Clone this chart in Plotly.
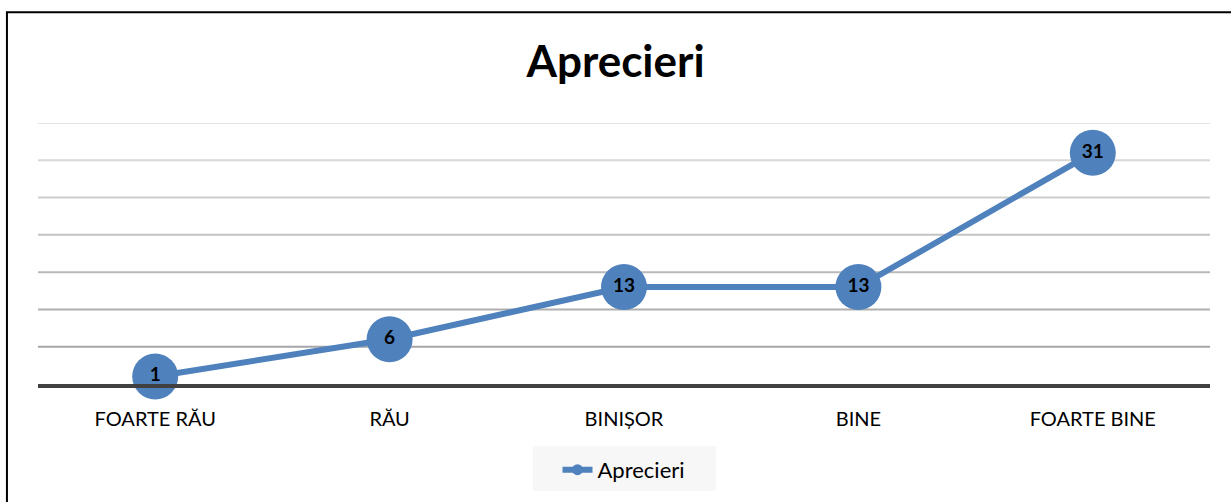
import plotly.graph_objects as go

categories = ["FOARTE RĂU", "RĂU", "BINIȘOR", "BINE", "FOARTE BINE"]
values = [1, 6, 13, 13, 31]
series_name = "Aprecieri"
grid_values = [5, 10, 15, 20, 25, 30, 35]
grid_colors = ["#a6a6a6", "#afafaf", "#b9b9b9", "#c3c3c3", "#cdcdcd", "#d7d7d7", "#e2e2e2"]

blue = "#4f81bd"
font_family = "Lato, 'Noto Sans', sans-serif"

fig = go.Figure()

# main line with big round markers and labels inside them
fig.add_trace(go.Scatter(
    x=categories,
    y=values,
    mode="lines+markers+text",
    line=dict(color=blue, width=6),
    marker=dict(color=blue, size=46),
    text=[str(v) for v in values],
    textposition="middle center",
    textfont=dict(family=font_family, size=19, color="black", weight="bold"),
    showlegend=False,
    cliponaxis=False,
    hoverinfo="x+y",
))

# legend-only entry (small marker like the original legend)
fig.add_trace(go.Scatter(
    x=[None], y=[None],
    mode="lines+markers",
    name=series_name,
    line=dict(color=blue, width=6),
    marker=dict(color=blue, size=11),
))

# graded gridlines
for gv, gc in zip(grid_values, grid_colors):
    fig.add_shape(type="line", xref="paper", yref="y", x0=0, x1=1, y0=gv, y1=gv,
                  line=dict(color=gc, width=2), layer="below")

# outer page border (partially visible frame)
fig.add_shape(type="rect", xref="paper", yref="paper",
              x0=-0.0265, x1=1.05, y0=-0.6, y1=1.4248,
              line=dict(color="black", width=2), layer="below")

# light grey legend box
fig.add_shape(type="rect", xref="paper", yref="paper",
              x0=0.4224, x1=0.5785, y0=-0.4095, y1=-0.238,
              line=dict(width=0), fillcolor="#f7f7f7", layer="below")

fig.update_layout(
    width=1231, height=502,
    margin=dict(l=38, r=21, t=123, b=117),
    paper_bgcolor="white",
    plot_bgcolor="white",
    font=dict(family=font_family, size=20, color="black"),
    title=dict(text="<b>Aprecieri</b>", x=0.5, xanchor="center", y=0.877, yanchor="middle",
               font=dict(family=font_family, size=44, color="black")),
    xaxis=dict(
        range=[-0.5, 4.5], showgrid=False, zeroline=False,
        showline=True, linecolor="#404040", linewidth=4,
        tickfont=dict(size=20, color="black"), ticklabelstandoff=14,
    ),
    yaxis=dict(range=[0, 35], showgrid=False, zeroline=False, showticklabels=False),
    legend=dict(orientation="h", x=0.5, xanchor="center", y=-0.324, yanchor="middle",
                bgcolor="rgba(0,0,0,0)", font=dict(size=22, color="black"),
                borderwidth=0),
)

fig.write_html("out.html", config={"displayModeBar": False},
               post_script="document.body.style.margin='0';")
